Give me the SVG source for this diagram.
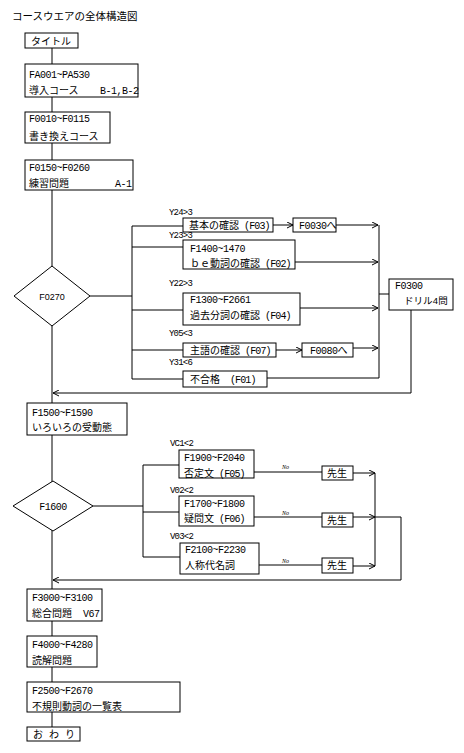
<svg xmlns="http://www.w3.org/2000/svg" width="464" height="753" viewBox="0 0 464 753">
<style>
text{font-family:"Liberation Mono","Noto Sans CJK JP",monospace;font-size:10px;letter-spacing:-0.5px;fill:#000}
.j{font-size:10px;letter-spacing:0}
.h{font-size:10.5px;letter-spacing:0}
.lt{font-size:10px;letter-spacing:-0.9px}
.lab{font-size:9px;letter-spacing:-0.8px}
.no{font-family:"Liberation Serif","Noto Sans CJK JP",serif;font-size:6px;font-style:italic;letter-spacing:0}
.dt{font-family:"Liberation Sans","Noto Sans CJK JP",sans-serif;font-size:9px;letter-spacing:0}
rect,polygon{fill:#fff;stroke:#000;stroke-width:1}
.c line,.c polyline{stroke:#000;stroke-width:1;fill:none}
</style>
<defs>
<marker id="a" markerWidth="7" markerHeight="7" refX="6" refY="3.5" orient="auto" markerUnits="userSpaceOnUse">
<path d="M0,0.5 L6,3.5 L0,6.5" fill="none" stroke="#000" stroke-width="1"/>
</marker>
</defs>
<rect x="0" y="0" width="464" height="753" style="stroke:none"/>
<text x="12" y="20" class="h">コースウエアの全体構造図</text>

<g class="c" id="connectors">
<line x1="52" y1="48" x2="52" y2="727"/>
<line x1="90" y1="296" x2="132" y2="296"/>
<line x1="132" y1="226" x2="132" y2="379"/>
<line x1="132" y1="226" x2="183" y2="226"/>
<line x1="132" y1="247" x2="183" y2="247"/>
<line x1="132" y1="310" x2="183" y2="310"/>
<line x1="132" y1="350" x2="183" y2="350"/>
<line x1="132" y1="379" x2="183" y2="379"/>
<line x1="273" y1="225" x2="293" y2="225" marker-end="url(#a)"/>
<line x1="336" y1="225" x2="378" y2="225" marker-end="url(#a)"/>
<line x1="295" y1="262" x2="378" y2="262" marker-end="url(#a)"/>
<line x1="300" y1="308" x2="378" y2="308" marker-end="url(#a)"/>
<line x1="276" y1="350" x2="302" y2="350" marker-end="url(#a)"/>
<line x1="353" y1="348" x2="378" y2="348" marker-end="url(#a)"/>
<line x1="267" y1="378" x2="379" y2="378"/>
<line x1="379" y1="225" x2="379" y2="378"/>
<line x1="379" y1="294" x2="389" y2="294"/>
<polyline points="411,310 411,393 53,393" marker-end="url(#a)"/>
<line x1="93" y1="506" x2="143" y2="506"/>
<line x1="143" y1="465" x2="143" y2="557"/>
<line x1="143" y1="465" x2="179" y2="465"/>
<line x1="143" y1="512" x2="179" y2="512"/>
<line x1="143" y1="557" x2="180" y2="557"/>
<line x1="254" y1="472" x2="322" y2="472"/>
<line x1="254" y1="517" x2="322" y2="517"/>
<line x1="259" y1="565" x2="322" y2="565"/>
<line x1="353" y1="473" x2="375" y2="473" marker-end="url(#a)"/>
<line x1="353" y1="517" x2="375" y2="517" marker-end="url(#a)"/>
<line x1="353" y1="566" x2="375" y2="566" marker-end="url(#a)"/>
<line x1="375" y1="473" x2="375" y2="566"/>
<line x1="375" y1="517" x2="401" y2="517"/>
<polyline points="401,517 401,580 53,580" marker-end="url(#a)"/>
<text x="282" y="469" class="no">No</text>
<text x="282" y="515" class="no">No</text>
<text x="282" y="563" class="no">No</text>
</g>

<g id="title"><rect x="25" y="33" width="53" height="15"/><text x="31" y="44.5" class="j">タイトル</text></g>
<g id="fa001"><rect x="25" y="64" width="113" height="33"/><text x="29" y="77.5">FA001~PA530</text><text x="29" y="93.5" class="j">導入コース</text><text x="100" y="93.5">B-1,B-2</text></g>
<g id="f0010"><rect x="25" y="112" width="85" height="31"/><text x="29" y="122">F0010~F0115</text><text x="29" y="139.5" class="j">書き換えコース</text></g>
<g id="f0150"><rect x="25" y="160" width="108" height="30"/><text x="29" y="171">F0150~F0260</text><text x="29" y="186.5" class="j">練習問題</text><text x="115" y="186.5">A-1</text></g>
<g id="f0270"><polygon points="52,266 90,296 52,326 14,296"/><text x="52" y="299.5" class="dt" text-anchor="middle">F0270</text></g>

<g id="l1"><text x="169" y="215" class="lab">Y24&gt;3</text><text x="169" y="238" class="lab">Y23&gt;3</text><text x="169" y="286" class="lab">Y22&gt;3</text><text x="169" y="336" class="lab">Y05&lt;3</text><text x="169" y="365" class="lab">Y31&lt;6</text></g>
<g id="f03"><rect x="183" y="218" width="90" height="14"/><text x="189" y="228.5" class="j">基本の確認<tspan class="lt"> (F03)</tspan></text></g>
<g id="f0030"><rect x="293" y="218" width="43" height="14"/><text x="299" y="228.5">F0030<tspan class="j">へ</tspan></text></g>
<g id="f02"><rect x="183" y="240" width="112" height="29"/><text x="190" y="251.5">F1400~1470</text><text x="190" y="266.5" class="j">ｂｅ動詞の確認<tspan class="lt"> (F02)</tspan></text></g>
<g id="f04"><rect x="183" y="293" width="117" height="32"/><text x="190" y="302.5">F1300~F2661</text><text x="190" y="319" class="j">過去分詞の確認<tspan class="lt"> (F04)</tspan></text></g>
<g id="f07"><rect x="183" y="343" width="93" height="14"/><text x="190" y="353.5" class="j">主語の確認<tspan class="lt"> (F07)</tspan></text></g>
<g id="f0080"><rect x="302" y="343" width="51" height="14"/><text x="310" y="353.5">F0080<tspan class="j">へ</tspan></text></g>
<g id="f01"><rect x="183" y="371" width="84" height="16"/><text x="190" y="382.5" class="j">不合格　<tspan class="lt">(F01)</tspan></text></g>
<g id="f0300"><rect x="389" y="279" width="64" height="31"/><text x="395" y="289">F0300</text><text x="404" y="303.5" class="j" style="font-size:9.5px">ドリル4問</text></g>

<g id="f1500"><rect x="27" y="403" width="100" height="32"/><text x="32" y="416">F1500~F1590</text><text x="32" y="431" class="j">いろいろの受動態</text></g>
<g id="f1600"><polygon points="53,481 93,506 53,531 13,506"/><text x="53" y="509.5" text-anchor="middle">F1600</text></g>

<g id="l2"><text x="170" y="446" class="lab">VC1&lt;2</text><text x="170" y="493" class="lab">V02&lt;2</text><text x="170" y="539" class="lab">V03&lt;2</text></g>
<g id="f05"><rect x="179" y="450" width="75" height="28"/><text x="184" y="460.5">F1900~F2040</text><text x="184" y="476.5" class="j">否定文<tspan class="lt"> (F05)</tspan></text></g>
<g id="f06"><rect x="179" y="496" width="75" height="30"/><text x="184" y="506.5">F1700~F1800</text><text x="184" y="521.5" class="j">疑問文<tspan class="lt"> (F06)</tspan></text></g>
<g id="f2100"><rect x="180" y="543" width="79" height="31"/><text x="185" y="553">F2100~F2230</text><text x="185" y="569" class="j">人称代名詞</text></g>
<g id="s1"><rect x="322" y="466" width="31" height="14"/><text x="327" y="476.5" class="j">先生</text></g>
<g id="s2"><rect x="322" y="513" width="31" height="14"/><text x="327" y="523.5" class="j">先生</text></g>
<g id="s3"><rect x="322" y="558" width="31" height="15"/><text x="327" y="569" class="j">先生</text></g>

<g id="f3000"><rect x="27" y="589" width="75" height="32"/><text x="32" y="601">F3000~F3100</text><text x="32" y="617" class="j">総合問題</text><text x="83" y="617">V67</text></g>
<g id="f4000"><rect x="27" y="636" width="70" height="31"/><text x="32" y="648">F4000~F4280</text><text x="32" y="664" class="j">読解問題</text></g>
<g id="f2500"><rect x="27" y="682" width="153" height="30"/><text x="32" y="694">F2500~F2670</text><text x="32" y="710" class="j">不規則動詞の一覧表</text></g>
<g id="end"><rect x="27" y="727" width="53" height="14"/><text x="33" y="737.5" class="j">お わ り</text></g>
</svg>
